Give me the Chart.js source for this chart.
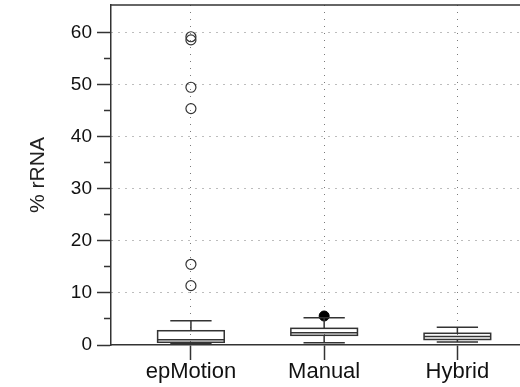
<!DOCTYPE html>
<html>
<head>
<meta charset="utf-8">
<script src="https://cdn.jsdelivr.net/npm/chart.js@4"></script>
<style>
  html, body { margin: 0; padding: 0; background: #fff; }
  #wrap { width: 520px; height: 387px; }
</style>
</head>
<body>
<div id="wrap"><canvas id="myChart" width="520" height="387"></canvas></div>
<script>
// box plot data, % rRNA per extraction method
const categories = ['epMotion', 'Manual', 'Hybrid'];
const lowerWhisker = [0.33, 0.45, 0.58];
const q1 = [0.52, 1.86, 1.06];
const median = [1.02, 2.34, 1.63];
const q3 = [2.74, 3.2, 2.25];
const upperWhisker = [4.66, 5.24, 3.4];
const outliersEpMotion = [59.2, 58.6, 49.5, 45.4, 15.5, 11.4];
const outliersManual = [5.57];
const yTicks = [0, 10, 20, 30, 40, 50, 60];

const lineColor = '#333';
const dotColor = '#7a7a7a';
const fontFamily = "'Liberation Sans', Arial, Helvetica, sans-serif";

// draws the boxes and whiskers, plus the top frame line
const boxPlugin = {
    id: 'boxes',
    afterDatasetsDraw(chart) {
        const c = chart.ctx;
        const xs = chart.scales.x;
        const ys = chart.scales.y;
        const area = chart.chartArea;
        c.save();
        c.strokeStyle = lineColor;
        c.lineWidth = 1.5;

        c.beginPath();
        c.moveTo(area.left, area.top);
        c.lineTo(area.right, area.top);
        c.stroke();

        categories.forEach((name, i) => {
            const pos = i + 1;
            const cx = xs.getPixelForValue(pos);
            const bl = xs.getPixelForValue(pos - 0.25);
            const br = xs.getPixelForValue(pos + 0.25);
            const cl = xs.getPixelForValue(pos - 0.155);
            const cr = xs.getPixelForValue(pos + 0.155);
            const yLo = ys.getPixelForValue(lowerWhisker[i]);
            const yQ1 = ys.getPixelForValue(q1[i]);
            const yMed = ys.getPixelForValue(median[i]);
            const yQ3 = ys.getPixelForValue(q3[i]);
            const yHi = ys.getPixelForValue(upperWhisker[i]);

            c.beginPath();
            // whiskers
            c.moveTo(cx, yQ3); c.lineTo(cx, yHi);
            c.moveTo(cl, yHi); c.lineTo(cr, yHi);
            c.moveTo(cx, yQ1); c.lineTo(cx, yLo);
            c.moveTo(cl, yLo); c.lineTo(cr, yLo);
            // median
            c.moveTo(bl, yMed); c.lineTo(br, yMed);
            c.stroke();
            // box
            c.strokeRect(bl, yQ3, br - bl, yQ1 - yQ3);
        });
        c.restore();
    }
};

const ctx = document.getElementById('myChart').getContext('2d');

const myChart = new Chart(ctx, {
    type: 'scatter',
    data: {
        datasets: [{
            label: 'epMotion outliers',
            data: outliersEpMotion.map(v => ({ x: 1, y: v })),
            pointRadius: 5,
            pointBorderWidth: 1.2,
            pointBorderColor: lineColor,
            pointBackgroundColor: 'rgba(0,0,0,0)'
        }, {
            label: 'Manual outliers',
            data: outliersManual.map(v => ({ x: 2, y: v })),
            pointRadius: 5,
            pointBorderWidth: 1,
            pointBorderColor: '#000',
            pointBackgroundColor: '#000'
        }]
    },
    options: {
        responsive: false,
        animation: false,
        layout: { autoPadding: false, padding: { top: 5, right: 0, left: 0, bottom: 0 } },
        plugins: {
            legend: { display: false },
            tooltip: { enabled: false }
        },
        scales: {
            x: {
                type: 'linear',
                min: 0.4,
                max: 3.47,
                afterBuildTicks: (scale) => {
                    scale.ticks = categories.map((n, i) => ({ value: i + 1 }));
                },
                afterFit: (scale) => {
                    scale.height = 42;
                    scale.paddingLeft = 0;
                    scale.paddingRight = 0;
                },
                ticks: {
                    callback: (v) => categories[v - 1] || '',
                    color: '#111',
                    font: { family: fontFamily, size: 22 },
                    padding: -1,
                    maxRotation: 0,
                    autoSkip: false
                },
                grid: {
                    color: dotColor,
                    lineWidth: 1,
                    tickLength: 15,
                    tickColor: lineColor,
                    tickWidth: 1.5,
                    tickBorderDash: []
                },
                border: { color: lineColor, width: 1.5, dash: [1, 6] }
            },
            y: {
                min: 0,
                max: 65.3,
                afterFit: (scale) => {
                    scale.width = 111;
                    scale.paddingTop = 0;
                    scale.paddingBottom = 0;
                },
                ticks: {
                    stepSize: 5,
                    callback: (v) => yTicks.includes(v) ? v : '',
                    color: '#111',
                    font: { family: fontFamily, size: 19 },
                    padding: 5,
                    autoSkip: false
                },
                grid: {
                    color: (c) => (c.tick && c.tick.value > 0 && c.tick.value % 10 === 0 && c.tick.value <= 60) ? dotColor : 'rgba(0,0,0,0)',
                    lineWidth: 1,
                    tickLength: 14,
                    tickColor: (c) => (c.tick && c.tick.value <= 60) ? lineColor : 'rgba(0,0,0,0)',
                    tickWidth: 1.5,
                    tickBorderDash: (c) => (c.tick && c.tick.value % 10 !== 0) ? [0, 7, 7, 100] : []
                },
                border: { color: lineColor, width: 1.5, dash: [1, 6] },
                title: {
                    display: true,
                    text: '% rRNA',
                    color: '#222',
                    font: { family: fontFamily, size: 21 },
                    padding: { top: 26, bottom: 0 }
                }
            }
        }
    },
    plugins: [boxPlugin]
});
</script>
</body>
</html>
